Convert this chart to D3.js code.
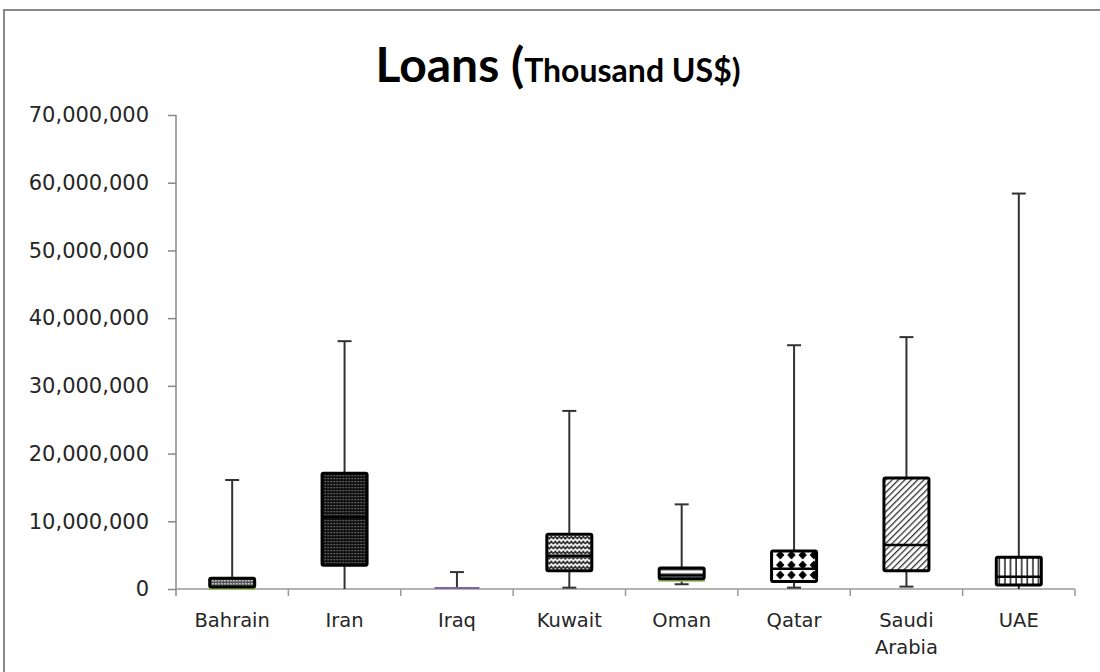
<!DOCTYPE html>
<html>
<head>
<meta charset="utf-8">
<script src="https://cdn.jsdelivr.net/npm/d3@7"></script>
<style>
  body { margin: 0; background: #fff; }
  svg { display: block; }
</style>
</head>
<body>
<div id="chart"></div>
<script>
// Box plot data (thousand US$)
const countries = ["Bahrain", "Iran", "Iraq", "Kuwait", "Oman", "Qatar", "Saudi Arabia", "UAE"];
const minVals = [0, 0, 0, 200000, 700000, 200000, 350000, 0];
const q1Vals = [300000, 3500000, 0, 2700000, 1500000, 1100000, 2700000, 600000];
const medianVals = [800000, 10600000, 50000, 4900000, 2000000, 3000000, 6500000, 1800000];
const q3Vals = [1600000, 17100000, 100000, 8100000, 3100000, 5600000, 16400000, 4700000];
const maxVals = [16100000, 36600000, 2500000, 26300000, 12500000, 36000000, 37200000, 58400000];
const yTicks = [0, 10000000, 20000000, 30000000, 40000000, 50000000, 60000000, 70000000];

const width = 1100;
const height = 672;
const margin = { top: 115, right: 25, bottom: 83, left: 176 };

const data = countries.map((c, i) => ({
  country: c, id: "p" + i, min: minVals[i], q1: q1Vals[i], median: medianVals[i], q3: q3Vals[i], max: maxVals[i]
}));

const svg = d3.select("#chart")
  .append("svg")
  .attr("width", width)
  .attr("height", height);

// fill patterns, one per box (ids p0..p7 follow the country order)
const defs = svg.append("defs");

function pattern(id, w, h) {
  return defs.append("pattern").attr("id", id)
    .attr("patternUnits", "userSpaceOnUse").attr("width", w).attr("height", h);
}

const pBahrain = pattern("p0", 3, 3);
pBahrain.append("rect").attr("width", 3).attr("height", 3).attr("fill", "#555");
pBahrain.append("rect").attr("x", 1).attr("y", 1).attr("width", 1.5).attr("height", 1.5).attr("fill", "#ddd");

const pIran = pattern("p1", 3, 3);
pIran.append("rect").attr("width", 3).attr("height", 3).attr("fill", "#111");
pIran.append("rect").attr("x", 1).attr("y", 1).attr("width", 1.2).attr("height", 1.2).attr("fill", "#888");

const pKuwait = pattern("p3", 8, 5);
pKuwait.append("rect").attr("width", 8).attr("height", 5).attr("fill", "#fff");
pKuwait.append("path").attr("d", "M0,4 L2,1.3 L4,4 L6,1.3 L8,4")
  .attr("fill", "none").attr("stroke", "#222").attr("stroke-width", 1.5);

const pOman = pattern("p4", 4, 4.3);
pOman.append("rect").attr("width", 4).attr("height", 4.3).attr("fill", "#fff");
pOman.append("rect").attr("y", 1.5).attr("width", 4).attr("height", 1.3).attr("fill", "#222");

const pQatar = pattern("p5", 11.2, 10).attr("x", 3).attr("y", 0);
pQatar.append("rect").attr("width", 11.2).attr("height", 10).attr("fill", "#fff");
pQatar.append("path").attr("d", "M5.6,0.6 L9.8,5 L5.6,9.4 L1.4,5 Z").attr("fill", "#000");

const pSaudi = pattern("p6", 4.5, 4.5).attr("patternTransform", "rotate(45)");
pSaudi.append("rect").attr("width", 4.5).attr("height", 4.5).attr("fill", "#fff");
pSaudi.append("rect").attr("width", 1.3).attr("height", 4.5).attr("fill", "#333");

const pUAE = pattern("p7", 5.6, 10);
pUAE.append("rect").attr("width", 5.6).attr("height", 10).attr("fill", "#fff");
pUAE.append("rect").attr("x", 2.2).attr("width", 1.4).attr("height", 10).attr("fill", "#111");

// chart border
svg.append("rect")
  .attr("x", 4).attr("y", 10)
  .attr("width", width + 20).attr("height", height + 20)
  .attr("fill", "#fff")
  .attr("stroke", "#888")
  .attr("stroke-width", 2);

// title
const title = svg.append("text")
  .attr("x", 558)
  .attr("y", 82)
  .attr("text-anchor", "middle")
  .attr("font-family", "Lato, 'Open Sans', sans-serif")
  .attr("font-weight", "bold")
  .attr("fill", "#000");
title.append("tspan").attr("font-size", 48).text("Loans (");
title.append("tspan").attr("font-size", 32).text("Thousand US$)");

const x = d3.scaleBand()
  .domain(countries)
  .range([margin.left, width - margin.right])
  .padding(0);

const y = d3.scaleLinear()
  .domain([0, 70000000])
  .range([height - margin.bottom, margin.top]);

const y0 = y(0);
const y70 = y(70000000);

// y axis
const yAxis = svg.append("g")
  .attr("class", "y axis")
  .attr("transform", `translate(${margin.left}, 0)`)
  .call(d3.axisLeft(y).tickValues(yTicks).tickSize(8).tickPadding(19).tickFormat(d3.format(",")));
yAxis.select(".domain").remove();
yAxis.selectAll(".tick line").attr("stroke", "#888").attr("stroke-width", 1.5);
yAxis.selectAll(".tick text")
  .attr("font-family", "'DejaVu Sans', Verdana, sans-serif")
  .attr("font-size", 21)
  .attr("fill", "#262626");
yAxis.append("line")
  .attr("x1", 0).attr("x2", 0)
  .attr("y1", y70).attr("y2", y0 + 7)
  .attr("stroke", "#888").attr("stroke-width", 1.5);

// x axis
const xAxis = svg.append("g").attr("class", "x axis");
xAxis.append("line")
  .attr("x1", margin.left).attr("x2", width - margin.right)
  .attr("y1", y0).attr("y2", y0)
  .attr("stroke", "#999").attr("stroke-width", 1.5);
xAxis.selectAll(".xtick")
  .data(countries.slice(1).concat(["__end"]))
  .join("line")
  .attr("class", "xtick")
  .attr("x1", d => d === "__end" ? width - margin.right : x(d))
  .attr("x2", d => d === "__end" ? width - margin.right : x(d))
  .attr("y1", y0).attr("y2", y0 + 7)
  .attr("stroke", "#999").attr("stroke-width", 1.5);

const labels = xAxis.selectAll(".xlabel")
  .data(countries)
  .join("text")
  .attr("class", "xlabel")
  .attr("x", d => x(d) + x.bandwidth() / 2)
  .attr("y", y0 + 38)
  .attr("text-anchor", "middle")
  .attr("font-family", "'DejaVu Sans', Verdana, sans-serif")
  .attr("font-size", 19.5)
  .attr("fill", "#262626");
labels.each(function (d) {
  const words = d.split(" ");
  const t = d3.select(this);
  words.forEach((w, i) => {
    t.append("tspan")
      .attr("x", x(d) + x.bandwidth() / 2)
      .attr("dy", i === 0 ? 0 : 27)
      .text(w);
  });
});

// boxes
const boxW = 45;
const capW = 14;
const edge = { Bahrain: "#9bbb59", Oman: "#9bbb59" };

const box = svg.selectAll(".box")
  .data(data)
  .join("g")
  .attr("class", "box")
  .attr("transform", d => `translate(${x(d.country) + x.bandwidth() / 2}, 0)`);

box.append("line")
  .attr("x1", 0).attr("x2", 0)
  .attr("y1", d => y(d.min)).attr("y2", d => y(d.max))
  .attr("stroke", "#333").attr("stroke-width", 2);

box.append("line")
  .attr("x1", -capW / 2).attr("x2", capW / 2)
  .attr("y1", d => y(d.max)).attr("y2", d => y(d.max))
  .attr("stroke", "#333").attr("stroke-width", 2);

box.filter(d => d.min > 0).append("line")
  .attr("x1", -capW / 2).attr("x2", capW / 2)
  .attr("y1", d => y(d.min)).attr("y2", d => y(d.min))
  .attr("stroke", "#333").attr("stroke-width", 2);

// Iraq box collapses to a thin purple bar
box.filter(d => d.country === "Iraq").append("line")
  .attr("x1", -boxW / 2).attr("x2", boxW / 2)
  .attr("y1", d => y(d.q1) - 1).attr("y2", d => y(d.q1) - 1)
  .attr("stroke", "#8064a2").attr("stroke-width", 2);

const solid = box.filter(d => d.country !== "Iraq");

solid.filter(d => edge[d.country]).append("line")
  .attr("x1", -boxW / 2 - 1).attr("x2", boxW / 2 + 1)
  .attr("y1", d => y(d.q1) + 2).attr("y2", d => y(d.q1) + 2)
  .attr("stroke", d => edge[d.country]).attr("stroke-width", 2);

solid.append("rect")
  .attr("x", -boxW / 2)
  .attr("y", d => y(d.q3))
  .attr("width", boxW)
  .attr("height", d => y(d.q1) - y(d.q3))
  .attr("rx", 1.5)
  .attr("fill", d => `url(#${d.id})`)
  .attr("stroke", "#000")
  .attr("stroke-width", 3);

solid.filter(d => d.country !== "Bahrain").append("line")
  .attr("x1", -boxW / 2).attr("x2", boxW / 2)
  .attr("y1", d => y(d.median)).attr("y2", d => y(d.median))
  .attr("stroke", "#000").attr("stroke-width", 2.5);
</script>
</body>
</html>
